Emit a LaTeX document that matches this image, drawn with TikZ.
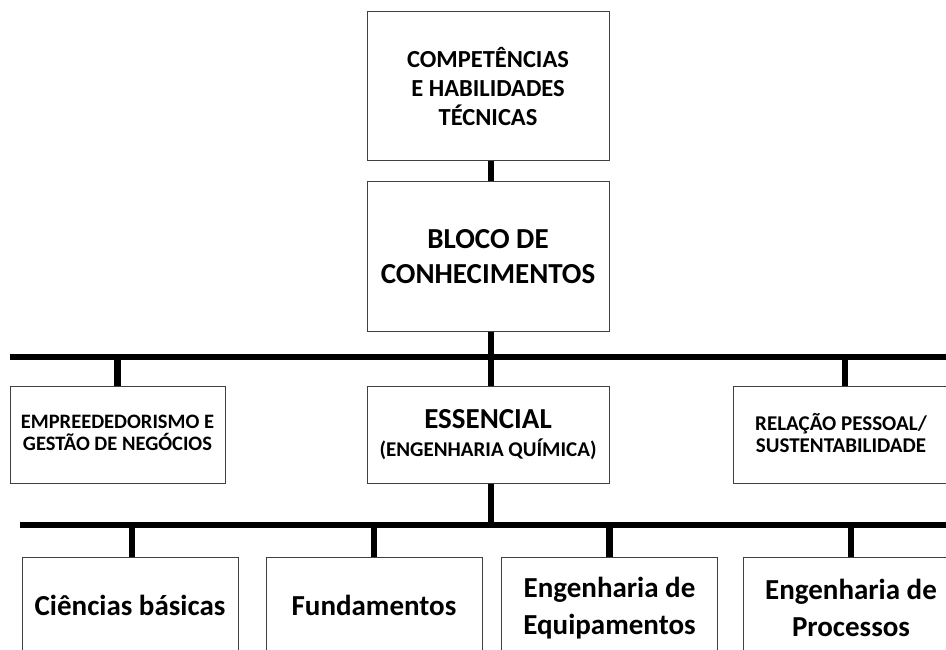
\documentclass[tikz,border=0pt]{standalone}
\usepackage{fontspec}
\setmainfont{Carlito}
\begin{document}
\begin{tikzpicture}[x=1pt,y=-1pt,
  box/.style={draw=black!75, line width=1pt, fill=white, align=center, inner sep=0pt, font=\bfseries},
  conn/.style={line width=6.5pt, black},
]
\useasboundingbox (0,0) rectangle (946,650);
\clip (0,0) rectangle (946,650);
% boxes
\node[box, minimum width=242pt, minimum height=149pt, font=\bfseries\fontsize{24.5}{29}\selectfont] (top) at (488,86.5) {COMPETÊNCIAS\\E HABILIDADES\\TÉCNICAS};
\node[box, minimum width=242pt, minimum height=149pt, font=\bfseries\fontsize{29}{35}\selectfont] (bloco) at (488,256.5) {BLOCO DE\\CONHECIMENTOS};
\node[box, minimum width=215pt, minimum height=97pt, font=\bfseries\fontsize{20.5}{25}\selectfont] (emp) at (117.5,434.5) {\raisebox{3pt}{\shortstack{EMPREEDEDORISMO E\\[2pt]GESTÃO DE NEGÓCIOS}}};
\node[box, minimum width=242pt, minimum height=97pt, font=\bfseries\fontsize{21}{31}\selectfont] (ess) at (488,434.5) {\raisebox{-2pt}{\shortstack{{\fontsize{29}{31}\selectfont ESSENCIAL}\\[7pt](ENGENHARIA QUÍMICA)}}};
\node[box, minimum width=216pt, minimum height=97pt, font=\bfseries\fontsize{21}{25}\selectfont] (rel) at (841,434.5) {\raisebox{3pt}{\shortstack{RELAÇÃO PESSOAL/\\[2pt]SUSTENTABILIDADE}}};
\node[box, minimum width=216pt, minimum height=102pt, font=\bfseries\fontsize{29}{37}\selectfont] (b1) at (130,608) {\raisebox{5pt}{Ciências básicas}};
\node[box, minimum width=216pt, minimum height=102pt, font=\bfseries\fontsize{29}{37}\selectfont] (b2) at (374,608) {\raisebox{5pt}{Fundamentos}};
\node[box, minimum width=216pt, minimum height=102pt, font=\bfseries\fontsize{29}{37}\selectfont] (b3) at (609.5,608) {Engenharia de\\Equipamentos};
\node[box, minimum width=216pt, minimum height=102pt, font=\bfseries\fontsize{29}{37}\selectfont] (b4) at (851,608) {Engenharia de\\Processos};
% bars
\coordinate (l1) at (10,357);
\coordinate (r1) at (950,357);
\coordinate (l2) at (20,525);
\coordinate (r2) at (950,525);
\draw[conn] (l1) -- (r1);
\draw[conn] (l2) -- (r2);
% connectors
\draw[conn] ([xshift=3pt]top.south) -- ([xshift=3pt]bloco.north);
\draw[conn] ([xshift=3pt]bloco.south) -- ([xshift=3pt]bloco.south |- l1);
\draw[conn] (emp.north) -- (emp.north |- l1);
\draw[conn] ([xshift=3pt]ess.north) -- ([xshift=3pt]ess.north |- l1);
\draw[conn] ([xshift=4pt]rel.north) -- ([xshift=4pt]rel.north |- l1);
\draw[conn] ([xshift=3pt]ess.south) -- ([xshift=3pt]ess.south |- l2);
\draw[conn] ([xshift=2pt]b1.north) -- ([xshift=2pt]b1.north |- l2);
\draw[conn] (b2.north) -- (b2.north |- l2);
\draw[conn] (b3.north) -- (b3.north |- l2);
\draw[conn] (b4.north) -- (b4.north |- l2);
\end{tikzpicture}
\end{document}
